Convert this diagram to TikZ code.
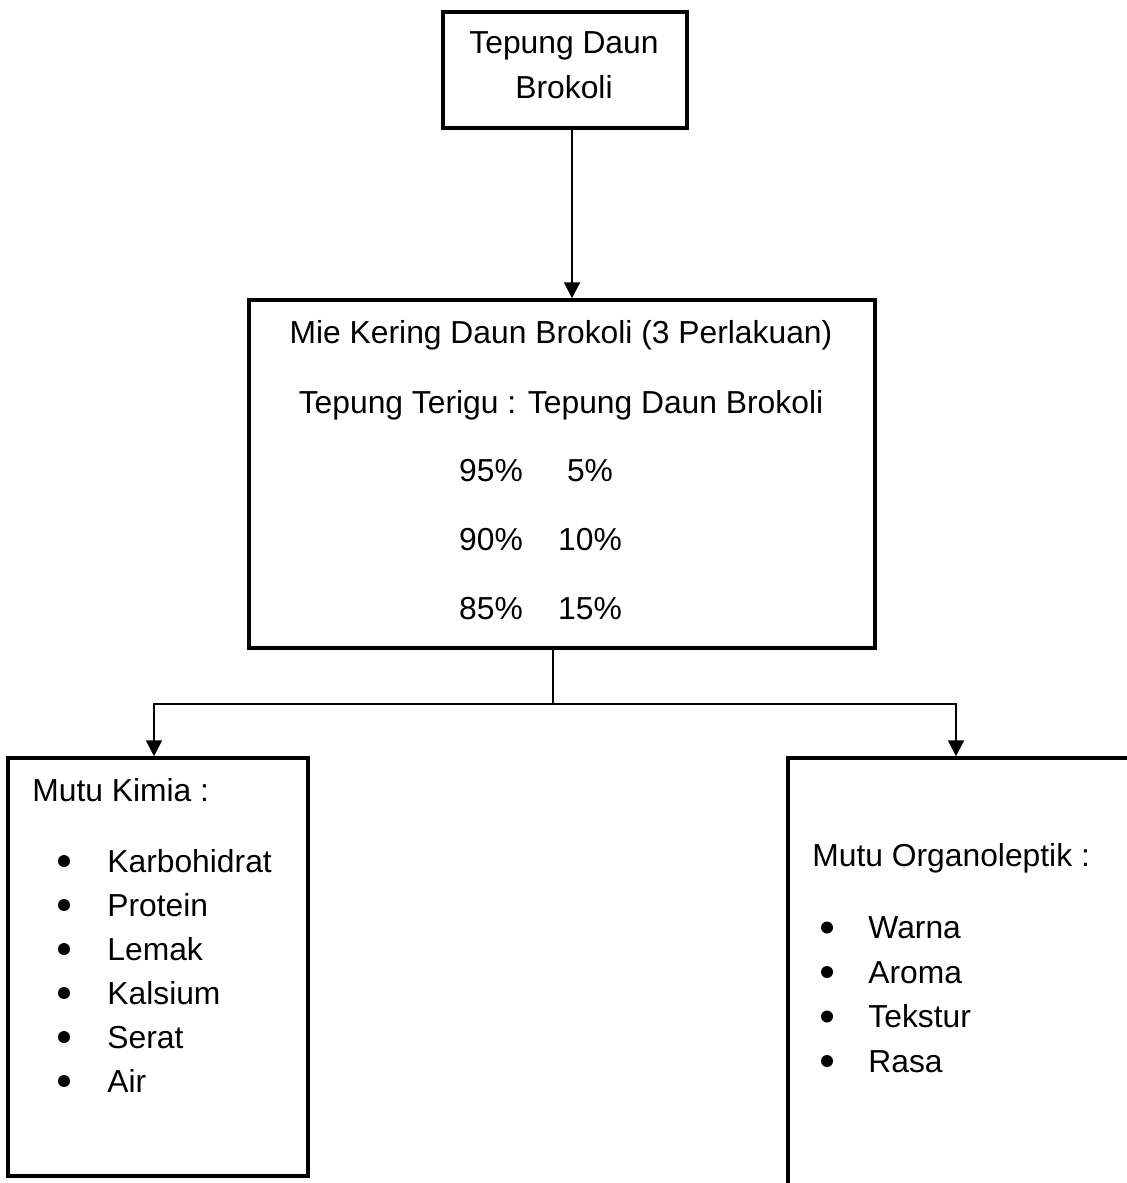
\documentclass[tikz,border=0pt]{standalone}
\usepackage{fontspec}
\setmainfont{Liberation Sans}
\usetikzlibrary{arrows.meta, positioning}
\tikzset{
  box/.style={draw, line width=1.75pt, inner sep=0pt},
  txt/.style={font=\fontsize{15.9}{19}\selectfont, inner sep=0pt, text height=0.716em, text depth=0pt, yshift=-2pt},
  dot/.style={circle, fill, inner sep=0pt, minimum size=6pt},
  link/.style={line width=1pt},
  flow/.style={-{Triangle[length=8pt, width=8pt]}, line width=1pt},
}
\begin{document}
\begin{tikzpicture}[x=0.5pt, y=-0.5pt]
  \useasboundingbox (0,0) rectangle (1127,1183);
  % boxes
  \node[box, minimum width=122pt, minimum height=58pt] (tepung) at (565,70) {};
  \node[box, minimum width=313pt, minimum height=174pt] (mie) at (562,474) {};
  \node[box, minimum width=150pt, minimum height=209pt] (kimia) at (158,967) {};
  \node[box, minimum width=178.5pt, minimum height=221pt] (organo) at (966.5,979) {};
  % texts
  \node[txt] (t1) at (564,42.5) {Tepung Daun};
  \node[txt] (t2) at (564,87.5) {Brokoli};
  \node[txt] (m1) at (561,332.5) {Mie Kering Daun Brokoli (3 Perlakuan)};
  \node[txt] (m2) at (561,402.5) {Tepung Terigu : Tepung Daun Brokoli};
  \foreach \a/\b/\y in {95/5/470, 90/10/539, 85/15/608} {
    \node[txt] (p\a) at (491,\y) {\a\%};
    \node[txt] (q\a) at (590,\y) {\b\%};
  }
  \node[txt, anchor=west] (kh) at (32,790) {Mutu Kimia :};
  \foreach \t [count=\i] in {Karbohidrat, Protein, Lemak, Kalsium, Serat, Air} {
    \node[dot] (kd\i) at (64,817+44*\i) {};
    \node[txt, anchor=west] (ki\i) at (107,817+44*\i) {\t};
  }
  \node[txt, anchor=west] (oh) at (812,855) {Mutu Organoleptik :};
  \foreach \t [count=\i] in {Warna, Aroma, Tekstur, Rasa} {
    \node[dot] (od\i) at (827,883+44.5*\i) {};
    \node[txt, anchor=west] (oi\i) at (868,883+44.5*\i) {\t};
  }
  % connectors
  \draw[flow] ([xshift=3.5pt]tepung.south) -- ([xshift=3.5pt]tepung.south |- mie.north);
  \coordinate (split) at (553,704);
  \draw[link] ([xshift=-4.5pt]mie.south) -- (split);
  \draw[flow] (split) -| ([xshift=-2pt]kimia.north);
  \draw[flow] (split) -| ([xshift=-5.25pt]organo.north);
\end{tikzpicture}
\end{document}
